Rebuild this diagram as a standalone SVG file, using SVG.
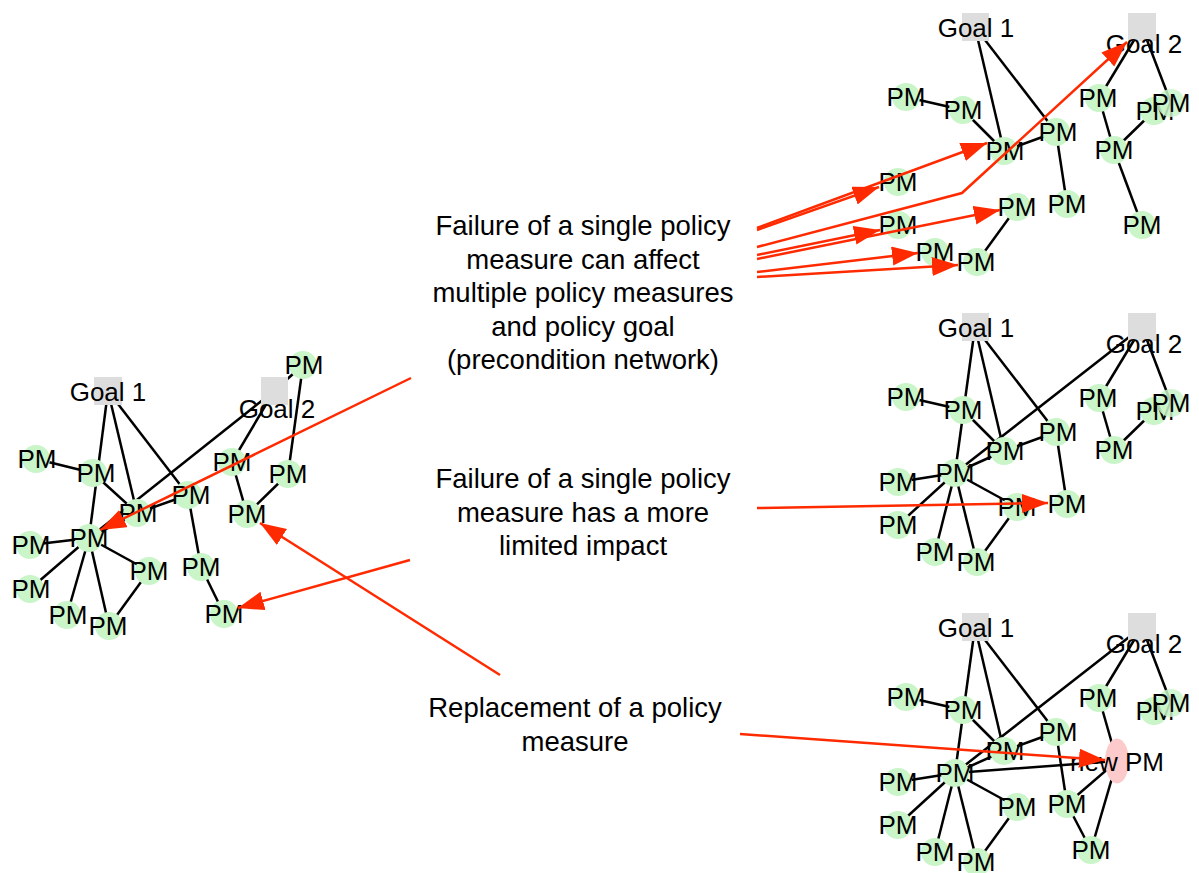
<svg xmlns="http://www.w3.org/2000/svg" width="1199" height="873" viewBox="0 0 1199 873">
<style>
  .pm { fill: #c9f5c9; }
  .goal { fill: #dddddd; }
  .newpm { fill: #fccaca; }
  .lbl { font-family: "Liberation Sans", Arial, Helvetica, sans-serif; font-size: 26px; fill: #000; text-anchor: middle; }
  .note { font-family: "Liberation Sans", Arial, Helvetica, sans-serif; font-size: 27.5px; fill: #000; text-anchor: middle; }
  .edges line { stroke: #000; stroke-width: 2.5; }
  .red { stroke: #ff2a00; stroke-width: 2.5; fill: none; marker-end: url(#ah); }
</style>
<defs>
  <marker id="ah" markerUnits="userSpaceOnUse" markerWidth="27" markerHeight="20" refX="26" refY="9.5" orient="auto">
    <path d="M0,0 L26,9.5 L0,19 z" fill="#ff2a00"/>
  </marker>
</defs>
<rect width="1199" height="873" fill="#fff"/>

<!-- black connectors -->
<g id="edges" class="edges">
  <!-- left graph -->
  <line x1="108" y1="391" x2="89" y2="538"/>
  <line x1="108" y1="391" x2="137" y2="513"/>
  <line x1="108" y1="391" x2="188" y2="495"/>
  <line x1="274" y1="391" x2="89" y2="538"/>
  <line x1="274" y1="391" x2="232" y2="462"/>
  <line x1="274" y1="391" x2="303" y2="365"/>
  <line x1="303" y1="365" x2="288" y2="474"/>
  <line x1="232" y1="462" x2="247" y2="514"/>
  <line x1="288" y1="474" x2="247" y2="514"/>
  <line x1="36" y1="459" x2="93" y2="473"/>
  <line x1="93" y1="473" x2="137" y2="513"/>
  <line x1="137" y1="513" x2="188" y2="495"/>
  <line x1="89" y1="538" x2="137" y2="513"/>
  <line x1="188" y1="495" x2="201" y2="567"/>
  <line x1="201" y1="567" x2="224" y2="614"/>
  <line x1="89" y1="538" x2="30" y2="545"/>
  <line x1="89" y1="538" x2="30" y2="589"/>
  <line x1="89" y1="538" x2="67" y2="615"/>
  <line x1="89" y1="538" x2="109" y2="626"/>
  <line x1="89" y1="538" x2="149" y2="571"/>
  <line x1="149" y1="571" x2="109" y2="626"/>
  <!-- top right graph -->
  <line x1="975" y1="27" x2="1004" y2="151"/>
  <line x1="975" y1="27" x2="1056" y2="132"/>
  <line x1="906" y1="97" x2="963" y2="110"/>
  <line x1="963" y1="110" x2="1004" y2="151"/>
  <line x1="1004" y1="151" x2="1056" y2="132"/>
  <line x1="1142" y1="27" x2="1099" y2="98"/>
  <line x1="1142" y1="27" x2="1171" y2="103"/>
  <line x1="1099" y1="98" x2="1114" y2="150"/>
  <line x1="1114" y1="150" x2="1154" y2="111"/>
  <line x1="1114" y1="150" x2="1142" y2="225"/>
  <line x1="1056" y1="132" x2="1067" y2="204"/>
  <line x1="1017" y1="207" x2="977" y2="262"/>
  <!-- middle right graph -->
  <line x1="975" y1="327" x2="955" y2="473"/>
  <line x1="975" y1="327" x2="1004" y2="451"/>
  <line x1="975" y1="327" x2="1056" y2="432"/>
  <line x1="906" y1="397" x2="963" y2="410"/>
  <line x1="963" y1="410" x2="1004" y2="451"/>
  <line x1="1004" y1="451" x2="1056" y2="432"/>
  <line x1="955" y1="473" x2="1004" y2="451"/>
  <line x1="955" y1="473" x2="1142" y2="327"/>
  <line x1="1142" y1="327" x2="1099" y2="398"/>
  <line x1="1142" y1="327" x2="1171" y2="403"/>
  <line x1="1099" y1="398" x2="1114" y2="450"/>
  <line x1="1114" y1="450" x2="1154" y2="411"/>
  <line x1="1056" y1="432" x2="1067" y2="504"/>
  <line x1="955" y1="473" x2="898" y2="482"/>
  <line x1="955" y1="473" x2="898" y2="525"/>
  <line x1="955" y1="473" x2="935" y2="552"/>
  <line x1="955" y1="473" x2="977" y2="562"/>
  <line x1="955" y1="473" x2="1017" y2="507"/>
  <line x1="1017" y1="507" x2="977" y2="562"/>
  <!-- bottom right graph -->
  <line x1="975" y1="627" x2="955" y2="773"/>
  <line x1="975" y1="627" x2="1004" y2="751"/>
  <line x1="975" y1="627" x2="1056" y2="732"/>
  <line x1="906" y1="697" x2="963" y2="710"/>
  <line x1="963" y1="710" x2="1004" y2="751"/>
  <line x1="1004" y1="751" x2="1056" y2="732"/>
  <line x1="955" y1="773" x2="1004" y2="751"/>
  <line x1="955" y1="773" x2="1142" y2="627"/>
  <line x1="1142" y1="627" x2="1099" y2="698"/>
  <line x1="1142" y1="627" x2="1171" y2="703"/>
  <line x1="1099" y1="698" x2="1117" y2="761"/>
  <line x1="955" y1="773" x2="1117" y2="761"/>
  <line x1="1067" y1="804" x2="1117" y2="761"/>
  <line x1="1056" y1="732" x2="1067" y2="804"/>
  <line x1="1067" y1="804" x2="1091" y2="850"/>
  <line x1="1117" y1="761" x2="1091" y2="850"/>
  <line x1="955" y1="773" x2="898" y2="782"/>
  <line x1="955" y1="773" x2="898" y2="825"/>
  <line x1="955" y1="773" x2="935" y2="852"/>
  <line x1="955" y1="773" x2="977" y2="862"/>
  <line x1="955" y1="773" x2="1017" y2="807"/>
  <line x1="1017" y1="807" x2="977" y2="862"/>
</g>

<!-- left graph nodes -->
<g id="L-goal1"><rect class="goal" x="94" y="377" width="28" height="28"/><text class="lbl" x="108" y="401">Goal 1</text></g>
<g id="L-goal2"><rect class="goal" x="261" y="377" width="27" height="28"/><text class="lbl" x="277" y="418">Goal 2</text></g>
<g id="L-pm1"><circle class="pm" cx="303" cy="365" r="14"/><text class="lbl" x="304" y="374">PM</text></g>
<g id="L-pm2"><circle class="pm" cx="36" cy="459" r="14"/><text class="lbl" x="37" y="468">PM</text></g>
<g id="L-pm3"><circle class="pm" cx="93" cy="473" r="14"/><text class="lbl" x="96" y="482">PM</text></g>
<g id="L-pm4"><circle class="pm" cx="137" cy="513" r="14"/><text class="lbl" x="138" y="522">PM</text></g>
<g id="L-pm5"><circle class="pm" cx="188" cy="495" r="14"/><text class="lbl" x="191" y="504">PM</text></g>
<g id="L-hub"><circle class="pm" cx="89" cy="538" r="14"/><text class="lbl" x="89" y="547">PM</text></g>
<g id="L-pm6"><circle class="pm" cx="30" cy="545" r="14"/><text class="lbl" x="31" y="554">PM</text></g>
<g id="L-pm7"><circle class="pm" cx="30" cy="589" r="14"/><text class="lbl" x="31" y="598">PM</text></g>
<g id="L-pm8"><circle class="pm" cx="67" cy="615" r="14"/><text class="lbl" x="68" y="624">PM</text></g>
<g id="L-pm9"><circle class="pm" cx="109" cy="626" r="14"/><text class="lbl" x="108" y="635">PM</text></g>
<g id="L-pm10"><circle class="pm" cx="149" cy="571" r="14"/><text class="lbl" x="149" y="580">PM</text></g>
<g id="L-pm11"><circle class="pm" cx="201" cy="567" r="14"/><text class="lbl" x="201" y="576">PM</text></g>
<g id="L-pm12"><circle class="pm" cx="224" cy="614" r="14"/><text class="lbl" x="224" y="623">PM</text></g>
<g id="L-pm13"><circle class="pm" cx="232" cy="462" r="14"/><text class="lbl" x="232" y="471">PM</text></g>
<g id="L-pm14"><circle class="pm" cx="288" cy="474" r="14"/><text class="lbl" x="288" y="483">PM</text></g>
<g id="L-pm15"><circle class="pm" cx="247" cy="514" r="14"/><text class="lbl" x="247" y="523">PM</text></g>

<!-- top right graph nodes -->
<g id="T-goal1"><rect class="goal" x="962" y="13" width="27" height="28"/><text class="lbl" x="976" y="37">Goal 1</text></g>
<g id="T-goal2"><rect class="goal" x="1128" y="13" width="28" height="28"/><text class="lbl" x="1144" y="53">Goal 2</text></g>
<g id="T-pm1"><circle class="pm" cx="906" cy="97" r="14"/><text class="lbl" x="906" y="106">PM</text></g>
<g id="T-pm2"><circle class="pm" cx="963" cy="110" r="14"/><text class="lbl" x="963" y="119">PM</text></g>
<g id="T-pm3"><circle class="pm" cx="1004" cy="151" r="14"/><text class="lbl" x="1005" y="160">PM</text></g>
<g id="T-pm4"><circle class="pm" cx="1056" cy="132" r="14"/><text class="lbl" x="1058" y="141">PM</text></g>
<g id="T-pm5"><circle class="pm" cx="898" cy="182" r="14"/><text class="lbl" x="898" y="191">PM</text></g>
<g id="T-pm6"><circle class="pm" cx="898" cy="225" r="14"/><text class="lbl" x="898" y="234">PM</text></g>
<g id="T-pm7"><circle class="pm" cx="935" cy="252" r="14"/><text class="lbl" x="935" y="261">PM</text></g>
<g id="T-pm8"><circle class="pm" cx="977" cy="262" r="14"/><text class="lbl" x="976" y="271">PM</text></g>
<g id="T-pm9"><circle class="pm" cx="1017" cy="207" r="14"/><text class="lbl" x="1017" y="216">PM</text></g>
<g id="T-pm10"><circle class="pm" cx="1067" cy="204" r="14"/><text class="lbl" x="1067" y="213">PM</text></g>
<g id="T-pm11"><circle class="pm" cx="1099" cy="98" r="14"/><text class="lbl" x="1098" y="107">PM</text></g>
<g id="T-pm12"><circle class="pm" cx="1114" cy="150" r="14"/><text class="lbl" x="1114" y="159">PM</text></g>
<g id="T-pm14"><circle class="pm" cx="1154" cy="111" r="14"/><text class="lbl" x="1155" y="120">PM</text></g>
<g id="T-pm13"><circle class="pm" cx="1171" cy="103" r="14" opacity="0.85"/><text class="lbl" x="1171" y="112">PM</text></g>
<g id="T-pm15"><circle class="pm" cx="1142" cy="225" r="14"/><text class="lbl" x="1142" y="234">PM</text></g>

<!-- middle right graph nodes -->
<g id="M-goal1"><rect class="goal" x="962" y="313" width="27" height="28"/><text class="lbl" x="976" y="337">Goal 1</text></g>
<g id="M-goal2"><rect class="goal" x="1128" y="313" width="28" height="28"/><text class="lbl" x="1144" y="353">Goal 2</text></g>
<g id="M-pm1"><circle class="pm" cx="906" cy="397" r="14"/><text class="lbl" x="906" y="406">PM</text></g>
<g id="M-pm2"><circle class="pm" cx="963" cy="410" r="14"/><text class="lbl" x="963" y="419">PM</text></g>
<g id="M-pm3"><circle class="pm" cx="1004" cy="451" r="14"/><text class="lbl" x="1005" y="460">PM</text></g>
<g id="M-pm4"><circle class="pm" cx="1056" cy="432" r="14"/><text class="lbl" x="1058" y="441">PM</text></g>
<g id="M-hub"><circle class="pm" cx="955" cy="473" r="14"/><text class="lbl" x="955" y="482">PM</text></g>
<g id="M-pm5"><circle class="pm" cx="898" cy="482" r="14"/><text class="lbl" x="898" y="491">PM</text></g>
<g id="M-pm6"><circle class="pm" cx="898" cy="525" r="14"/><text class="lbl" x="898" y="534">PM</text></g>
<g id="M-pm7"><circle class="pm" cx="935" cy="552" r="14"/><text class="lbl" x="935" y="561">PM</text></g>
<g id="M-pm8"><circle class="pm" cx="977" cy="562" r="14"/><text class="lbl" x="976" y="571">PM</text></g>
<g id="M-pm9"><circle class="pm" cx="1017" cy="507" r="14"/><text class="lbl" x="1017" y="516">PM</text></g>
<g id="M-pm10"><circle class="pm" cx="1067" cy="504" r="14"/><text class="lbl" x="1067" y="513">PM</text></g>
<g id="M-pm11"><circle class="pm" cx="1099" cy="398" r="14"/><text class="lbl" x="1098" y="407">PM</text></g>
<g id="M-pm12"><circle class="pm" cx="1114" cy="450" r="14"/><text class="lbl" x="1114" y="459">PM</text></g>
<g id="M-pm14"><circle class="pm" cx="1154" cy="411" r="14"/><text class="lbl" x="1155" y="420">PM</text></g>
<g id="M-pm13"><circle class="pm" cx="1171" cy="403" r="14" opacity="0.85"/><text class="lbl" x="1171" y="412">PM</text></g>

<!-- bottom right graph nodes -->
<g id="B-goal1"><rect class="goal" x="962" y="613" width="27" height="28"/><text class="lbl" x="976" y="637">Goal 1</text></g>
<g id="B-goal2"><rect class="goal" x="1128" y="613" width="28" height="28"/><text class="lbl" x="1144" y="653">Goal 2</text></g>
<g id="B-pm1"><circle class="pm" cx="906" cy="697" r="14"/><text class="lbl" x="906" y="706">PM</text></g>
<g id="B-pm2"><circle class="pm" cx="963" cy="710" r="14"/><text class="lbl" x="963" y="719">PM</text></g>
<g id="B-pm3"><circle class="pm" cx="1004" cy="751" r="14"/><text class="lbl" x="1005" y="760">PM</text></g>
<g id="B-pm4"><circle class="pm" cx="1056" cy="732" r="14"/><text class="lbl" x="1058" y="741">PM</text></g>
<g id="B-hub"><circle class="pm" cx="955" cy="773" r="14"/><text class="lbl" x="955" y="782">PM</text></g>
<g id="B-pm5"><circle class="pm" cx="898" cy="782" r="14"/><text class="lbl" x="898" y="791">PM</text></g>
<g id="B-pm6"><circle class="pm" cx="898" cy="825" r="14"/><text class="lbl" x="898" y="834">PM</text></g>
<g id="B-pm7"><circle class="pm" cx="935" cy="852" r="14"/><text class="lbl" x="935" y="861">PM</text></g>
<g id="B-pm8"><circle class="pm" cx="977" cy="862" r="14"/><text class="lbl" x="976" y="871">PM</text></g>
<g id="B-pm9"><circle class="pm" cx="1017" cy="807" r="14"/><text class="lbl" x="1017" y="816">PM</text></g>
<g id="B-pm10"><circle class="pm" cx="1067" cy="804" r="14"/><text class="lbl" x="1067" y="813">PM</text></g>
<g id="B-pm11"><circle class="pm" cx="1099" cy="698" r="14"/><text class="lbl" x="1098" y="707">PM</text></g>
<g id="B-pm12"><circle class="pm" cx="1091" cy="850" r="14"/><text class="lbl" x="1091" y="859">PM</text></g>
<g id="B-pm14"><circle class="pm" cx="1154" cy="711" r="14"/><text class="lbl" x="1155" y="720">PM</text></g>
<g id="B-pm13"><circle class="pm" cx="1171" cy="703" r="14" opacity="0.85"/><text class="lbl" x="1171" y="712">PM</text></g>
<g id="B-newpm"><ellipse class="newpm" cx="1117" cy="761" rx="12" ry="22.5"/><text class="lbl" x="1117" y="771">new PM</text></g>

<!-- annotation texts -->
<g id="note1">
  <text class="note" x="583" y="235">Failure of a single policy</text>
  <text class="note" x="583" y="268.5">measure can affect</text>
  <text class="note" x="583" y="302">multiple policy measures</text>
  <text class="note" x="583" y="335.5">and policy goal</text>
  <text class="note" x="583" y="369">(precondition network)</text>
</g>
<g id="note2">
  <text class="note" x="583" y="488">Failure of a single policy</text>
  <text class="note" x="583" y="521.5">measure has a more</text>
  <text class="note" x="583" y="555">limited impact</text>
</g>
<g id="note3">
  <text class="note" x="575" y="717">Replacement of a policy</text>
  <text class="note" x="575" y="750.5">measure</text>
</g>

<!-- red arrows -->
<g id="arrows">
  <path class="red" d="M411,378 L100,530"/>
  <path class="red" d="M410,560 L238,608"/>
  <path class="red" d="M500,675 L260,523"/>
  <path class="red" d="M757,228 L987,143"/>
  <path class="red" d="M757,230 L879,187"/>
  <path class="red" d="M757,247 L962,193 L1127,42"/>
  <path class="red" d="M757,255 L880,230"/>
  <path class="red" d="M757,259 L1000,210"/>
  <path class="red" d="M757,272 L918,253"/>
  <path class="red" d="M757,277 L958,265"/>
  <path class="red" d="M757,508 L1048,503"/>
  <path class="red" d="M740,734 L1105,760"/>
</g>
</svg>
